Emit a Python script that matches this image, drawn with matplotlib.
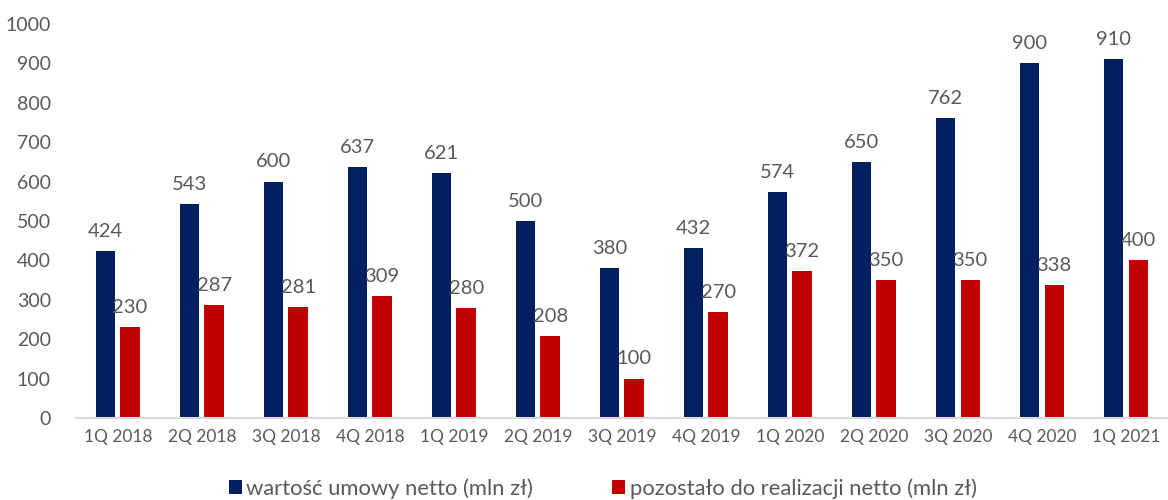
import numpy as np
import matplotlib
matplotlib.use('Agg')
import matplotlib.pyplot as plt

### DATA
quarters = ['1Q 2018', '2Q 2018', '3Q 2018', '4Q 2018', '1Q 2019', '2Q 2019', '3Q 2019',
            '4Q 2019', '1Q 2020', '2Q 2020', '3Q 2020', '4Q 2020', '1Q 2021']
contract_value = [424, 543, 600, 637, 621, 500, 380, 432, 574, 650, 762, 900, 910]
remaining = [230, 287, 281, 309, 280, 208, 100, 270, 372, 350, 350, 338, 400]
label_blue = 'wartość umowy netto (mln zł)'
label_red = 'pozostało do realizacji netto (mln zł)'

blue = '#002060'
red = '#C00000'
grey = '#595959'

plt.rcParams['font.family'] = ['Lato', 'DejaVu Sans']

fig = plt.figure(figsize=(11.68, 5), dpi=100)
ax = fig.add_axes([0.065, 0.164, 0.935, 0.788])

x = np.arange(len(quarters))
w = 0.23
gap = 0.03
b1 = ax.bar(x - w / 2 - gap, contract_value, w, color=blue, label=label_blue)
b2 = ax.bar(x + w / 2 + gap, remaining, w, color=red, label=label_red)

for bars in (b1, b2):
    ax.bar_label(bars, padding=8, fontsize=14.5, color=grey)

ax.set_xlim(-0.5, len(quarters) - 0.5)
ax.set_ylim(0, 1000)
ax.set_yticks(range(0, 1001, 100))
ax.set_xticks(x)
ax.set_xticklabels(quarters)
ax.tick_params(axis='y', length=0, labelsize=14, labelcolor=grey, pad=18)
ax.tick_params(axis='x', length=0, labelsize=12.5, labelcolor=grey, pad=8)

for s in ['top', 'right', 'left']:
    ax.spines[s].set_visible(False)
ax.spines['bottom'].set_color('#d9d9d9')
ax.spines['bottom'].set_linewidth(1.5)

fig.legend(loc='lower center', bbox_to_anchor=(0.516, -0.037), ncol=2, frameon=False,
           fontsize=15.8, labelcolor=grey, handlelength=0.6, handleheight=0.6,
           handletextpad=0.2, columnspacing=3.6)

fig.savefig('out.png', dpi=100)
